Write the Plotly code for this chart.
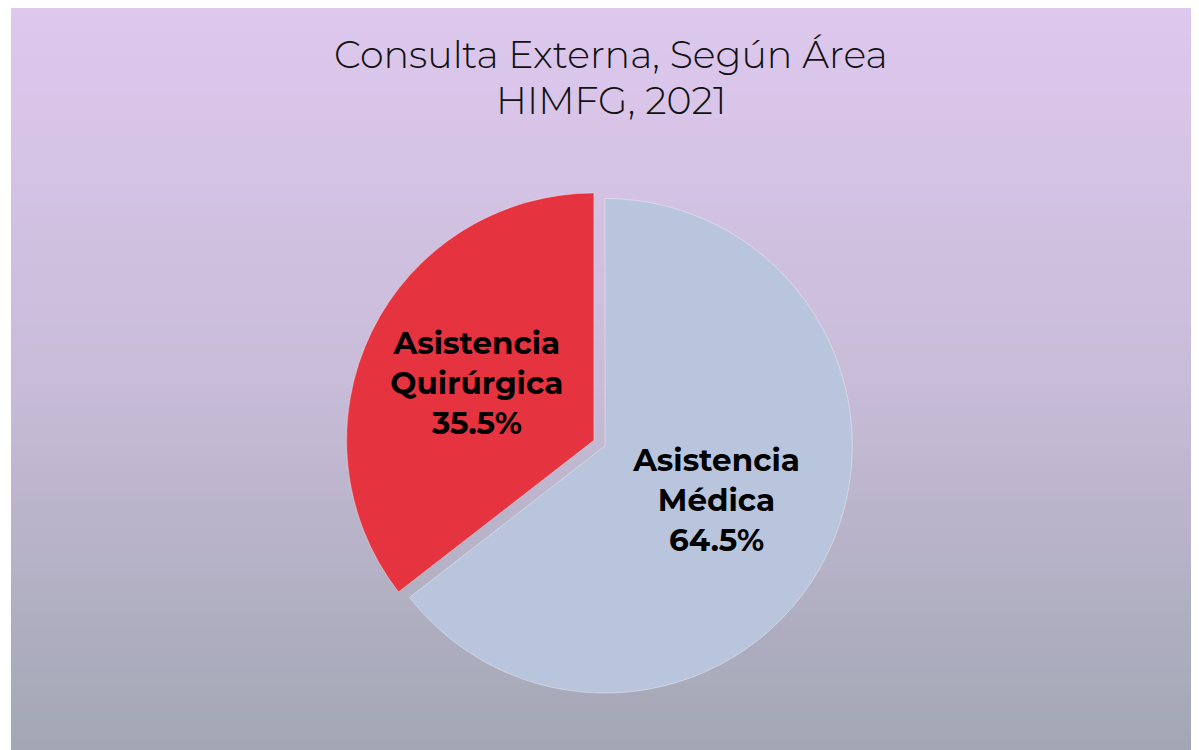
import plotly.graph_objects as go

# ---- data ----
categories = ["Asistencia Médica", "Asistencia Quirúrgica"]
label_text = ["Asistencia<br>Médica", "Asistencia<br>Quirúrgica"]
values = [64.5, 35.5]
slice_colors = ["#b9c5dc", "#e5333f"]
title_lines = ["Consulta Externa, Según Área", "HIMFG, 2021"]

fig = go.Figure()

fig.add_trace(go.Pie(
    labels=categories,
    values=values,
    text=label_text,
    texttemplate="%{text}<br>%{percent:.1%}",
    textinfo="text",
    textposition="inside",
    insidetextorientation="horizontal",
    sort=False,
    direction="clockwise",
    rotation=0,
    pull=[0, 0.05],
    marker=dict(colors=slice_colors, line=dict(color="rgba(255,255,255,0.35)", width=1)),
    textfont=dict(family="Montserrat, Inter, 'Open Sans', sans-serif", size=31, color="#000000", weight=700),
    showlegend=False,
    hoverinfo="label+percent",
    domain=dict(x=[0, 1], y=[0.06, 0.76]),
))

# vertical background gradient (lavender -> grey)
top = (222, 200, 238)
mid = (200, 188, 216)
bot = (163, 167, 181)
n = 80
shapes = []
for i in range(n):
    t = i / (n - 1)
    if t < 0.5:
        u = t / 0.5
        c = [round(top[k] + (mid[k] - top[k]) * u) for k in range(3)]
    else:
        u = (t - 0.5) / 0.5
        c = [round(mid[k] + (bot[k] - mid[k]) * u) for k in range(3)]
    y1 = 1 - i / n
    y0 = 1 - (i + 1) / n
    shapes.append(dict(type="rect", xref="paper", yref="paper", x0=0, x1=1,
                       y0=y0 - 0.001, y1=y1 + 0.001, fillcolor=f"rgb({c[0]},{c[1]},{c[2]})",
                       line=dict(width=0), layer="below"))

title_font = dict(family="Montserrat, 'Open Sans', Lato, sans-serif", size=38, color="#111111", weight=300)
annotations = [
    dict(text=title_lines[0], xref="paper", yref="paper", x=0.505, y=0.937,
         xanchor="center", yanchor="middle", showarrow=False, font=title_font),
    dict(text=title_lines[1], xref="paper", yref="paper", x=0.505, y=0.876,
         xanchor="center", yanchor="middle", showarrow=False, font=title_font),
]

fig.update_layout(
    width=1191, height=742,
    margin=dict(l=3, r=0, t=0, b=0),
    paper_bgcolor="#ffffff",
    plot_bgcolor="rgba(0,0,0,0)",
    shapes=shapes,
    annotations=annotations,
)

fig.write_html("out.html")
